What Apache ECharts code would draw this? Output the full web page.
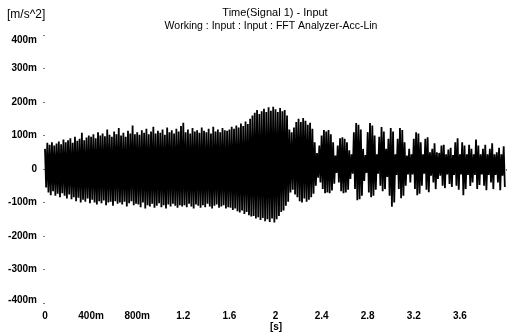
<!DOCTYPE html>
<html><head><meta charset="utf-8">
<script src="https://cdn.jsdelivr.net/npm/echarts/dist/echarts.min.js"></script>
<style>html,body{margin:0;padding:0;background:#fff}#c{width:509px;height:334px}</style>
</head><body><div id="c"></div>
<script>
// Time step between successive peak/trough pairs [s]
const sampleStep = 0.02;
// Positive peaks [m/s^2 * 1e-3]
const upperPeaks = [
  60, 78, 72, 80, 70, 76, 82, 74, 88, 80, 86, 92, 78, 96, 84, 90, 108, 86, 94, 100,
  96, 104, 92, 110, 100, 106, 98, 118, 102, 96, 112, 104, 122, 100, 108, 96, 114, 106, 130, 104,
  110, 102, 116, 108, 120, 104, 112, 126, 106, 114, 108, 118, 102, 124, 110, 116, 106, 120, 112, 128,
  138, 110, 118, 106, 122, 112, 116, 108, 124, 114, 110, 120, 106, 126, 112, 118, 110, 122, 116, 114,
  118, 126, 120, 130, 124, 136, 128, 142, 134, 150,
  160, 168, 176, 164, 172, 180, 170, 184, 174, 186,
  178, 170, 182, 172, 176, 160, 118, 110, 124, 140,
  150, 140, 152, 144, 132, 138, 120, 80, 48, 70,
  100, 116, 112, 116, 104, 80, 40, 70, 92, 95,
  90, 80, 56, 44, 110, 137, 132, 118, 60, 42,
  110, 137, 130, 100, 44, 96, 125, 112, 60, 90,
  122, 112, 44, 90, 122, 116, 80, 40, 60, 44,
  90, 110, 106, 80, 44, 90, 95, 50, 60, 77,
  50, 48, 70, 72, 44, 58, 63, 42, 80, 92,
  44, 80, 70, 44, 72, 60, 44, 88, 70, 44,
  60, 72, 44, 60, 77, 44, 50, 63, 44, 68
];
// Negative troughs [m/s^2 * 1e-3]
const lowerPeaks = [
  -55, -70, -78, -66, -80, -74, -84, -72, -80, -88, -76, -90, -84, -96, -86, -100, -92, -98, -88, -102,
  -92, -100, -106, -96, -102, -94, -108, -100, -98, -110, -96, -104, -100, -106, -98, -112, -102, -96, -108, -104,
  -106, -114, -100, -118, -108, -112, -104, -116, -110, -102, -114, -108, -118, -106, -112, -104, -110, -116, -108, -112,
  -108, -114, -104, -112, -118, -106, -110, -116, -108, -114, -104, -112, -118, -110, -106, -116, -112, -108, -118, -114,
  -116, -122, -118, -126, -130, -124, -134, -128, -138, -142,
  -140, -148, -144, -152, -146, -156, -150, -158, -148, -160,
  -150, -140, -128, -124, -110, -98, -70, -62, -76, -84,
  -96, -100, -88, -98, -92, -84, -74, -50, -26, -40,
  -60, -72, -70, -72, -64, -44, -12, -40, -66, -72,
  -70, -62, -30, -14, -60, -93, -90, -80, -36, -12,
  -70, -84, -80, -62, -14, -50, -66, -60, -24, -80,
  -113, -100, -18, -60, -87, -80, -50, -16, -40, -16,
  -60, -78, -74, -50, -14, -62, -69, -20, -40, -60,
  -30, -20, -50, -57, -16, -45, -54, -18, -50, -62,
  -16, -78, -60, -18, -51, -40, -18, -60, -48, -16,
  -50, -63, -18, -40, -60, -18, -40, -63, -20, -54
];
const xTickLabels = ['0', '400m', '800m', '1.2', '1.6', '2', '2.4', '2.8', '3.2', '3.6', ''];
const yTickLabels = ['-400m', '-300m', '-200m', '-100m', '0', '100m', '200m', '300m', '400m'];
const titleText = 'Time(Signal 1) - Input';
const subTitleText = 'Working : Input : Input : FFT Analyzer-Acc-Lin';
const yUnit = '[m/s^2]';
const xUnit = '[s]';

const signal = [];
for (let i = 0; i < upperPeaks.length; i++) {
  signal.push([i * sampleStep, upperPeaks[i]]);
  signal.push([i * sampleStep + sampleStep / 2, lowerPeaks[i]]);
}

const FONT = 'Liberation Sans';
const labelFont = {fontFamily: FONT, fontSize: 10, fontWeight: 'bold', color: '#000'};
const chart = echarts.init(document.getElementById('c'), null, {renderer: 'canvas'});
chart.setOption({
  animation: false,
  backgroundColor: '#fff',
  grid: {left: 45, right: 3, top: 35, bottom: 31, containLabel: false},
  xAxis: {
    type: 'value', min: 0, max: 4, interval: 0.4,
    axisLine: {show: false},
    axisTick: {show: true, length: 2, lineStyle: {color: '#777'}},
    splitLine: {show: false},
    axisLabel: Object.assign({
      margin: 8,
      formatter: (v) => xTickLabels[Math.round(v / 0.4)]
    }, labelFont)
  },
  yAxis: {
    type: 'value', min: -400, max: 400, interval: 100,
    axisLine: {show: false},
    axisTick: {show: true, length: 2, lineStyle: {color: '#777'}},
    splitLine: {show: false},
    axisLabel: Object.assign({
      margin: 8,
      formatter: (v) => {
        const k = Math.round((v + 400) / 100);
        const s = yTickLabels[k];
        if (k === yTickLabels.length - 1) return '{top|' + s + '}';
        if (k === 0) return '{bot|' + s + '}';
        return s;
      },
      rich: {
        top: Object.assign({padding: [11, 0, 0, 0]}, labelFont),
        bot: Object.assign({padding: [0, 0, 6, 0]}, labelFont)
      }
    }, labelFont)
  },
  graphic: [
    {type: 'text', left: 7, top: 9, style: {text: yUnit, font: '12px "Liberation Sans"', fill: '#000'}},
    {type: 'text', x: 275, y: 13, style: {text: titleText, font: '11px "Liberation Sans"', fill: '#000', textAlign: 'center', textVerticalAlign: 'middle'}},
    {type: 'text', x: 271, y: 26, style: {text: subTitleText, font: '10.5px "Liberation Sans"', fill: '#000', textAlign: 'center', textVerticalAlign: 'middle'}},
    {type: 'text', x: 276, y: 327, style: {text: xUnit, font: 'bold 10px "Liberation Sans"', fill: '#000', textAlign: 'center', textVerticalAlign: 'middle'}}
  ],
  series: [{
    type: 'line', data: signal, showSymbol: false, symbol: 'none',
    lineStyle: {color: '#000', width: 1.8},
    clip: true
  }]
});
</script>
</body></html>
